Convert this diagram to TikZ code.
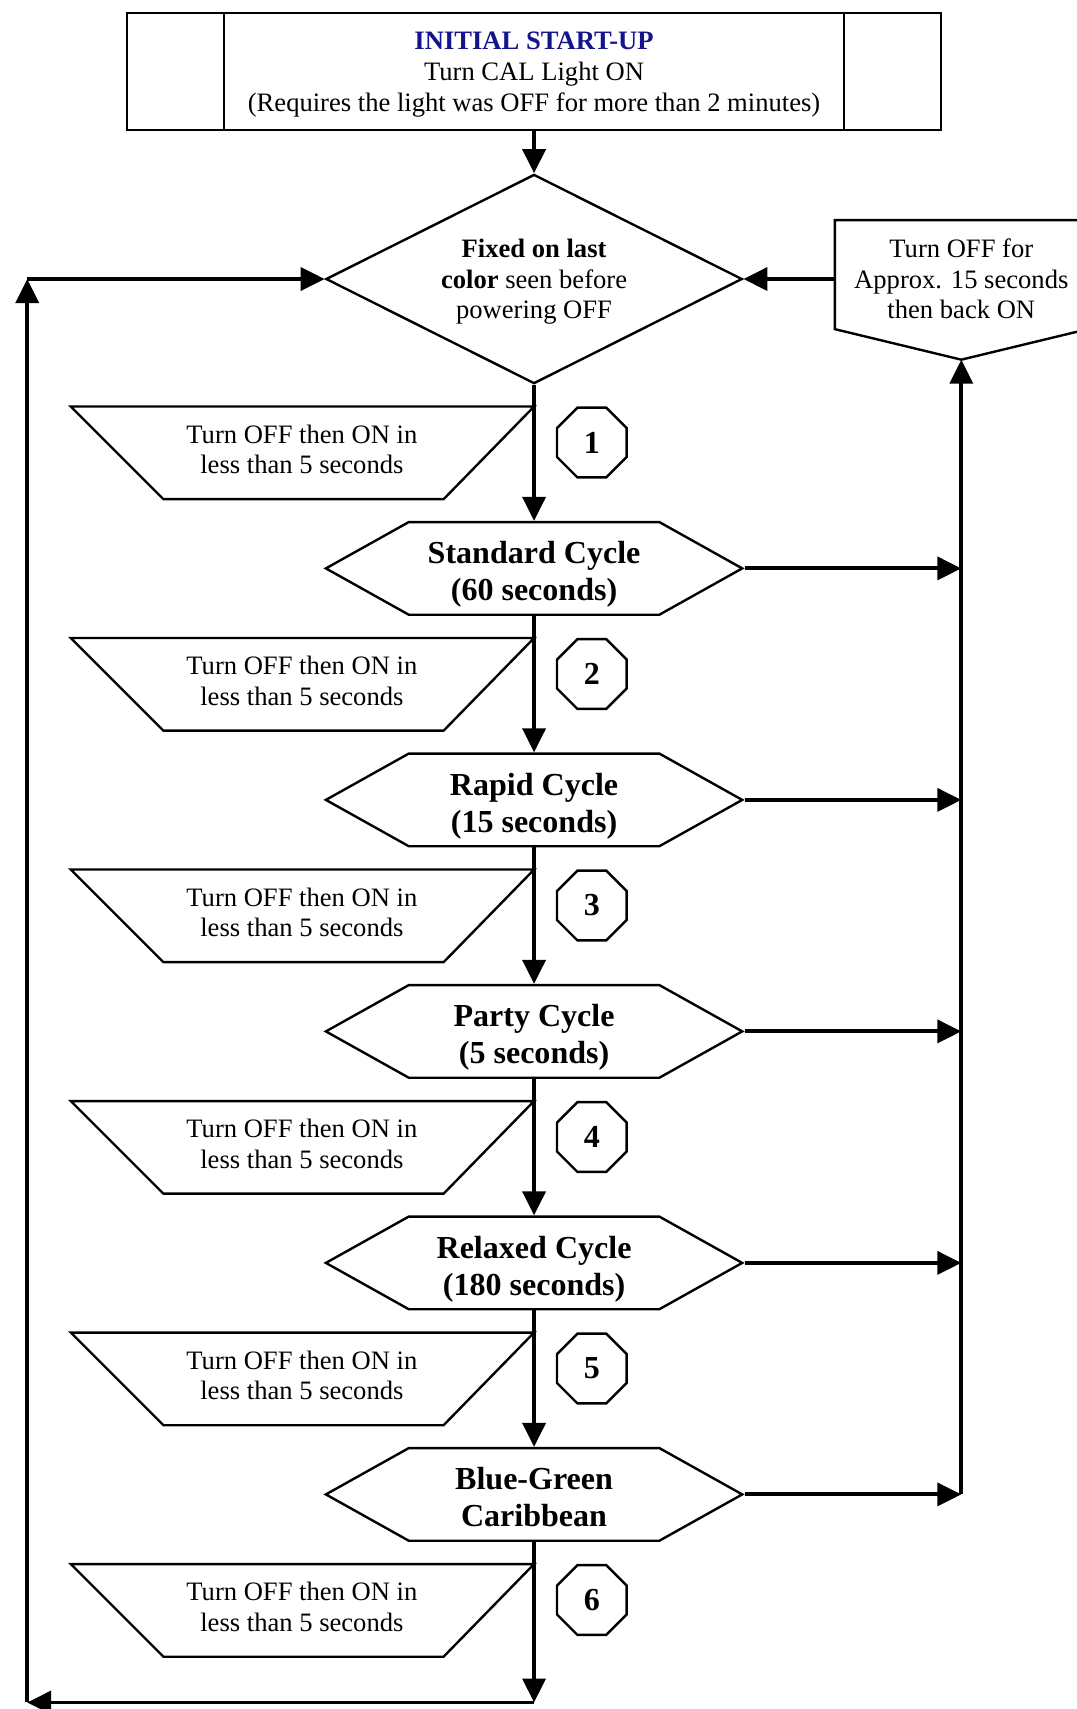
\documentclass[tikz,border=0pt]{standalone}
\usepackage{fontspec}
\setmainfont{Liberation Serif}
\usepackage{tikz}
\usetikzlibrary{arrows.meta, positioning, calc, shapes.geometric, shapes.symbols}
\definecolor{titlenavy}{RGB}{20,20,140}

\begin{document}
\begin{tikzpicture}[x=0.5pt, y=-0.5pt,
  arr/.style={line width=1.8pt, -{Triangle[length=11pt, width=10.5pt]}},
  txt/.style={font=\fontsize{12.2}{14}\selectfont, align=center},
  cyclebox/.style={signal, signal to=west and east, signal pointer angle=58.4, draw, line width=1.1pt,
    minimum width=191pt, minimum height=42.5pt, inner sep=0pt, align=center,
    font=\fontsize{14.7}{17}\selectfont\bfseries},
  stepnum/.style={regular polygon, regular polygon sides=8, draw, line width=1.1pt,
    minimum size=34.6pt, inner sep=0pt, font=\fontsize{14.7}{17}\selectfont\bfseries}]
\useasboundingbox (0,0) rectangle (988,1568);
% start-up box with the two side bars
\node[draw, line width=1.1pt, minimum width=373.5pt, minimum height=53.5pt, txt] (start) at (490,65.5)
  {\rule{0pt}{11pt}\textcolor{titlenavy}{\textbf{INITIAL START-UP}}\\Turn CAL Light ON\\(Requires the light was OFF for more than 2 minutes)};
\draw[line width=1.1pt] ($(start.north west)+(90,0)$) -- ($(start.south west)+(90,0)$);
\draw[line width=1.1pt] ($(start.north east)+(-90,0)$) -- ($(start.south east)+(-90,0)$);
% last colour decision
\node[diamond, aspect=2, draw, line width=1.1pt, minimum width=191pt, minimum height=96pt, inner sep=0pt, txt]
  (fixed) at (490,256) {\rule{0pt}{11pt}\textbf{Fixed on last}\\\textbf{color} seen before\\powering OFF};
% turn off 15 s (runs off the right edge)
\draw[line width=1.1pt] (766,202) -- (998,202) -- (998,302) -- (882,330) -- (766,302) -- cycle;
\node[txt] (offtxt) at (882,256) {Turn OFF for\\Approx. 15 seconds\\then back ON};
\coordinate (offtip) at (882,330);
\coordinate (offleft) at (766,256);
% cycles
\foreach \nm/\lbl [count=\i from 0] in {std/{Standard Cycle\\(60 seconds)}, rapid/{Rapid Cycle\\(15 seconds)},
    party/{Party Cycle\\(5 seconds)}, relax/{Relaxed Cycle\\(180 seconds)}, bg/{Blue-Green\\Caribbean}}
  \node[cyclebox] (\nm) at (490, {521.5+212.4*\i}) {\rule{0pt}{16pt}\lbl\rule[-3.2pt]{0pt}{3.2pt}};
% off/on steps and their numbers
\foreach \k [count=\i from 0] in {1,...,6} {
  \pgfmathsetmacro\ty{373+212.4*\i}
  \draw[line width=1.1pt] (65,\ty) -- (490,\ty) -- (407,\ty+85) -- (150,\ty+85) -- cycle;
  \node[txt] (tr\k) at (277, \ty+39.5) {Turn OFF then ON in\\less than 5 seconds};
  \node[stepnum] (n\k) at (543, {406+212.4*\i}) {\k};
}
% main line
\draw[arr] (start.south) -- (fixed.north);
\draw[arr] (fixed.south) -- (std.north);
\draw[arr] (std.south) -- (rapid.north);
\draw[arr] (rapid.south) -- (party.north);
\draw[arr] (party.south) -- (relax.north);
\draw[arr] (relax.south) -- (bg.north);
% loop back on the left
\coordinate (bot) at (490,1562);
\coordinate (lb) at (25,1562);
\coordinate (lt) at (25,256);
\draw[arr] (bg.south) -- (bot);
\draw[arr] (bot) -- (lb);
\draw[arr] (lb) -- (lt);
\draw[arr] (lt) -- (fixed.west);
% rail on the right
\foreach \nm in {std,rapid,party,relax,bg}
  \draw[arr] (\nm.east) -- (\nm.east -| offtip);
\draw[arr] (bg.east -| offtip) -- (offtip);
\draw[arr] (offleft) -- (fixed.east);
\end{tikzpicture}
\end{document}
